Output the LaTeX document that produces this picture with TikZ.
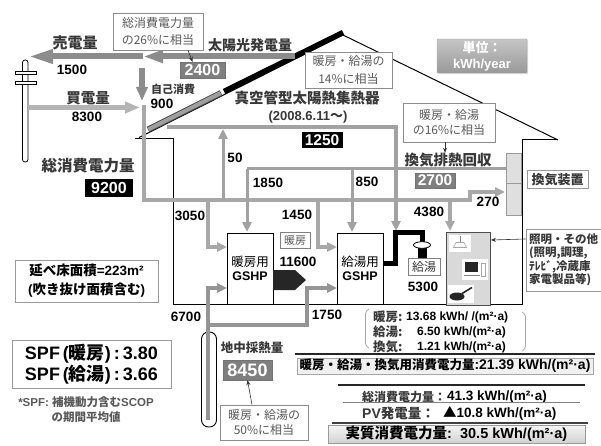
\documentclass[tikz,border=0pt]{standalone}
\usepackage{fontspec}
\setmainfont{Liberation Sans}
\newfontfamily\jp{Noto Sans CJK JP}
\usetikzlibrary{arrows.meta,shadows}
\newcommand\fsz[2]{\fontsize{#1}{#2}\selectfont}
\newcommand\jtxt[1]{{\jp #1}}

\definecolor{sellgray}{HTML}{8C8C8C}
\definecolor{buygray}{HTML}{B4B4B4}
\definecolor{flowgray}{HTML}{A8A8A8}
\definecolor{heatgray}{HTML}{A2A2A2}
\definecolor{groundgray}{HTML}{959595}
\definecolor{labgray}{HTML}{383838}
\definecolor{notegray}{HTML}{5A5A5A}
\definecolor{boxgray}{HTML}{7F7F7F}

\begin{document}
\begin{tikzpicture}[x=1pt,y=-1pt,
  sell/.style={line width=6pt,draw=sellgray},
  buy/.style={line width=5pt,draw=buygray},
  elec/.style={line width=4pt,draw=flowgray},
  heat/.style={line width=3pt,draw=heatgray},
  ground/.style={line width=4pt,draw=groundgray},
  tip/.style={-{Triangle[length=10pt,width=9pt]}},
  num/.style={font=\fsz{13.5}{14}\bfseries,inner sep=0pt},
  jlab/.style={font=\jp\bfseries\fsz{14.5}{15},text=labgray,inner sep=0pt},
  note/.style={draw=gray!90,fill=white,line width=0.7pt,align=center,text=notegray,inner sep=0pt,font=\jp\fsz{12}{17}},
  valbox/.style={fill=boxgray,draw=black!55,text=white,font=\fsz{16}{16}\bfseries,inner sep=0pt},
  darkbox/.style={fill=black,text=white,font=\fsz{16}{16}\bfseries,inner sep=0pt},
  wall/.style={line width=1pt,draw=black},
  pointer/.style={-{Stealth[length=5pt,width=4pt]},line width=0.6pt,draw=black!80},
  bline/.style={anchor=west,inner sep=0pt},
]
\useasboundingbox (0,0) rectangle (601,446);

% ---------- house outline ----------
\draw[wall] (135,139) -- (173,139) -- (173,304.5) -- (522,304.5) -- (522,140) -- (558,140);
\draw[wall] (139,137.5) -- (343,35) -- (558,140);
% PV panel and vacuum-tube collector on the roof
\draw[line width=6pt,black!70] (148,129.5) -- (221,93);
\draw[line width=4pt,gray!75] (148.5,129.3) -- (220.5,93.2);
\draw[line width=5.5pt,black] (224,91.5) -- (343,32.5);

% ---------- utility pole ----------
\draw[line width=0.8pt,fill=white,rounded corners=2.5pt] (22.5,60) rectangle (28,162);
\draw[line width=0.8pt,fill=white] (15,71) rectangle (36,74);
\draw[line width=0.8pt,fill=white] (15,81) rectangle (36,84);

% ---------- PV output: sold and self-consumed ----------
\coordinate (pvEnd) at (295,56.5);
\coordinate (pvSplit) at (143,56.5);
\coordinate (poleTop) at (28,56.5);
\draw[sell,-{Triangle[length=20pt,width=12pt]}] (pvEnd) -- (pvSplit);
\draw[sell,-{Triangle[length=25pt,width=13pt]}] (pvSplit) -- (poleTop);
\coordinate (selfTop) at (142,68);
\coordinate (selfEnd) at (142,101);
\draw[sell,-{Triangle[length=14pt,width=11pt]}] (selfTop) -- (selfEnd);

% ---------- purchased electricity ----------
\coordinate (buyStart) at (28,107.5);
\coordinate (buyEnd) at (140,107.5);
\draw[buy,-{Triangle[length=15pt,width=11pt]}] (buyStart) -- (buyEnd);

% ---------- electricity distribution ----------
\coordinate (busTop) at (143.5,105);
\coordinate (busCorner) at (143.5,200);
\coordinate (busStep) at (470,200);
\coordinate (ventIn) at (505,192);
\draw[elec,tip,line join=miter] (busTop) -- (busCorner) -- (busStep) -- (470,192) -- (ventIn);
\draw[elec,tip] (208,200) -- (208,247) -- (227,247);
\draw[elec,tip] (318,200) -- (318,247) -- (337,247);
\draw[heat,tip] (223,200) -- (223,129);
\draw[elec,tip] (450,200) -- (450,231);

% ---------- heat recovered from ventilation ----------
\coordinate (hxStart) at (506,169);
\draw[heat] (hxStart) -- (247,169);
\draw[heat,tip] (247,169) -- (247,232);
\draw[heat,tip] (352,169) -- (352,232);

% ---------- solar thermal ----------
\draw[line width=4pt,draw=heatgray,tip] (167,127) -- (396,127) -- (396,231);

% ---------- ground loop ----------
\draw[line width=0.9pt,rounded corners=7pt] (201.5,332) rectangle (216.5,427);
\draw[ground,tip] (208,420) -- (208,288) -- (227,288);
\draw[ground,tip] (208,325) -- (307,325) -- (307,288) -- (337,288);

% ---------- heat pumps ----------
\node[draw,line width=1pt,fill=white,minimum width=46pt,minimum height=71pt,inner sep=0pt,align=center,font=\fsz{12.5}{13.5}] (hpH) at (250,268.5) {\jtxt{暖房用}\\\textbf{GSHP}};
\node[draw,line width=1pt,fill=white,minimum width=46pt,minimum height=71pt,inner sep=0pt,align=center,font=\fsz{12.5}{13.5}] (hpW) at (360,268.5) {\jtxt{給湯用}\\\textbf{GSHP}};
\fill[black!85] (273,270) -- (295,270) -- (306,280) -- (295,290) -- (273,290) -- cycle;
\node[draw=gray,line width=0.7pt,fill=white,font=\jp\fsz{11}{11},text=notegray,minimum width=30pt,minimum height=16pt,inner sep=0pt] (heatLbl) at (295,240) {暖房};
\node[num] (heatV) at (298,262) {11600};

% ---------- hot water pipe and tank ----------
\draw[line width=5pt,line join=miter] (383,263) -- (395,263) -- (395,232) -- (422,232) -- (422,243);
\fill (417.5,247) rectangle (426.5,258);
\draw[line width=0.8pt,fill=white] (422,245) ellipse (8.5pt and 3.3pt);
\node[draw=gray,line width=0.7pt,fill=white,font=\jp\fsz{12}{12},text=labgray,minimum width=32pt,minimum height=17pt,inner sep=0pt] (tankLbl) at (424,266.5) {給湯};
\node[num] (tankV) at (423,287) {5300};

% ---------- ventilation unit ----------
\node[draw=gray!80,fill=gray!25,minimum width=15pt,minimum height=30pt,inner sep=0pt] (ventA) at (513.5,168) {};
\node[draw=gray!80,fill=gray!25,minimum width=15pt,minimum height=32pt,inner sep=0pt] (ventB) at (513.5,199) {};
\node[draw=gray!80,line width=0.7pt,fill=white,font=\jp\bfseries\fsz{13}{13},text=labgray,minimum width=61pt,minimum height=18pt,inner sep=0pt] (ventL) at (557.5,179.5) {換気装置};

% ---------- lighting and appliances ----------
\node[draw=black!70,line width=0.8pt,fill=gray!30,minimum width=44pt,minimum height=73pt,inner sep=0pt] (app) at (468.5,268.5) {};
\fill[white] (449,235) rectangle (471,252);
\draw[gray,line width=0.6pt] (460,236) -- (460,242.5);
\draw[gray!70,line width=0.6pt,fill=white] (453.5,247.5) -- (456,242.5) -- (464,242.5) -- (466.5,247.5) -- cycle;
\fill[white] (462,259) rectangle (488,280);
\fill[black!85] (465,262) rectangle (478,272);
\draw[gray,line width=0.6pt] (464,275) -- (480,275);
\draw[gray!70,line width=0.5pt] (481,263) rectangle (485,276);
\fill[white] (448,285) rectangle (474,303);
\fill[black!85] (457,296.5) ellipse (7.5pt and 4pt);
\draw[black!85,line width=1.6pt] (462,293.5) -- (472,287.5);
\node[draw=gray!80,line width=0.7pt,fill=white,align=left,font=\jp\bfseries\fsz{11.5}{13.5},text=labgray,minimum width=75pt,minimum height=62pt,inner sep=2pt] (appL) at (563.5,260) {照明・その他\\(照明,調理,\\ﾃﾚﾋﾞ,冷蔵庫\\家電製品等)};
\draw[pointer] ([yshift=21pt]appL.west) -- ([yshift=28.5pt]app.east);

% ---------- flow labels ----------
\node[jlab,font=\jp\bfseries\fsz{15}{15}] (sellL) at (75,43) {売電量};
\node[num] (sellV) at (72,70) {1500};
\node[jlab] (buyL) at (88,98) {買電量};
\node[num] (buyV) at (87,117) {8300};
\node[jlab,font=\jp\bfseries\fsz{14}{14}] (pvL) at (250,45) {太陽光発電量};
\node[valbox,minimum width=45pt,minimum height=16pt] (pvV) at (202.5,70) {2400};
\node[note,minimum width=90pt,minimum height=37pt] (noteA) at (158,31.5) {総消費電力量\\の26\%に相当};
\draw[pointer] ([xshift=30pt]noteA.south) -- ([xshift=-10pt]pvV.north);
\node[jlab,font=\jp\bfseries\fsz{11}{11}] (selfL) at (173,89) {自己消費};
\node[num] (selfV) at (162,104) {900};
\node[jlab,font=\jp\bfseries\fsz{15.5}{16}] (totL) at (88,166) {総消費電力量};
\node[darkbox,minimum width=48pt,minimum height=18pt] (totV) at (109,188) {9200};

\node[jlab] (stL) at (307,98) {真空管型太陽熱集熱器};
\node[font=\bfseries\fsz{13}{13},text=labgray,inner sep=0pt] (stDate) at (308,117) {(2008.6.11\jtxt{～})};
\node[darkbox,font=\fsz{15.5}{15.5}\bfseries,minimum width=41pt,minimum height=16pt] (stV) at (322,140) {1250};
\node[note,minimum width=87pt,minimum height=36pt,font=\jp\fsz{12}{18}] (noteB) at (348.5,70) {暖房・給湯の\\14\%に相当};

\node[draw=gray!70,top color=gray!45,bottom color=gray!80,text=white,font=\bfseries\fsz{13}{16},align=center,minimum width=90pt,minimum height=34pt,inner sep=0pt,rounded corners=1pt,drop shadow={shadow xshift=1.2pt,shadow yshift=-1.2pt,opacity=0.3}] (unit) at (482,56) {\jtxt{単位：}\\kWh/year};

\node[note,minimum width=92pt,minimum height=39pt,font=\jp\fsz{12}{15}] (noteC) at (449,122.5) {暖房・給湯\\の16\%に相当};
\node[jlab] (hxL) at (448,160) {換気排熱回収};
\draw[pointer] ([xshift=-4pt]noteC.south) -- ([xshift=-3pt]hxL.north);
\node[valbox,font=\fsz{15.5}{15.5}\bfseries,minimum width=40pt,minimum height=15pt] (hxV) at (435,180.5) {2700};

\node[num] (v50) at (235,158) {50};
\node[num] (v1850) at (268,183) {1850};
\node[num] (v850) at (367,182) {850};
\node[num] (v3050) at (190,216) {3050};
\node[num] (v1450) at (297,215) {1450};
\node[num] (v4380) at (429,212) {4380};
\node[num] (v270) at (488,202) {270};
\node[num] (v6700) at (186,317) {6700};
\node[num] (v1750) at (327,315) {1750};

\node[jlab,font=\jp\bfseries\fsz{12.5}{12.5}] (gL) at (252,348) {地中採熱量};
\node[valbox,font=\fsz{18}{18}\bfseries,minimum width=49pt,minimum height=20pt] (gV) at (247.5,370) {8450};
\node[note,minimum width=88pt,minimum height=35pt,font=\jp\fsz{12}{15}] (noteD) at (264,422.5) {暖房・給湯の\\50\%に相当};
\draw[pointer] ([xshift=-12pt]noteD.north) -- (gV.south);

% ---------- floor area and SPF ----------
\node[draw=gray!80,line width=0.8pt,minimum width=143pt,minimum height=42pt,inner sep=0pt,align=center,font=\bfseries\fsz{13.5}{19}] (area) at (86.5,281) {\jtxt{延べ床面積}=223m²\\(\jtxt{吹き抜け面積含む})};
\node[draw=gray!80,line width=1pt,minimum width=159pt,minimum height=48pt,inner sep=0pt,align=center,font=\bfseries\fsz{18}{21.5}] (spf) at (91.5,364) {SPF\,(\jtxt{暖房})\,:\,3.80\\SPF\,(\jtxt{給湯})\,:\,3.66};
\node[font=\bfseries\fsz{11.5}{15},text=notegray,align=center,inner sep=0pt] (spfN) at (86,409.5) {*SPF: \jtxt{補機動力含む}SCOP\\\jtxt{の期間平均値}};

% ---------- per-area figures ----------
\draw[gray!70,line width=0.8pt,rounded corners=3pt] (369,309) -- (365.5,311) -- (365.5,346) -- (369,348);
\draw[gray!70,line width=0.8pt,rounded corners=3pt] (522,312) -- (525.5,314) -- (525.5,349) -- (522,351);
\node[bline,font=\jp\bfseries\fsz{12.5}{12.5},text=labgray] (bHl) at (373,317) {暖房:};
\node[bline,font=\bfseries\fsz{12}{12}] (bHv) at (406,317) {13.68 kWh/ /(m²·a)};
\node[bline,font=\jp\bfseries\fsz{12.5}{12.5},text=labgray] (bWl) at (373,332) {給湯:};
\node[bline,font=\bfseries\fsz{12}{12}] (bWv) at (417,332) {6.50 kWh/(m²·a)};
\node[bline,font=\jp\bfseries\fsz{12.5}{12.5},text=labgray] (bVl) at (373,347) {換気:};
\node[bline,font=\bfseries\fsz{12}{12}] (bVv) at (417,347) {1.21 kWh/(m²·a)};

\draw[black!85,line width=2pt] (295,354) -- (595,354);
\node[draw=gray!70,line width=0.8pt,fill=gray!12,minimum width=296pt,minimum height=16pt,inner sep=0pt,font=\bfseries\fsz{14}{14},drop shadow={shadow xshift=1pt,shadow yshift=-1pt,opacity=0.25}] (sumBox) at (445,366) {{\jp\fsz{12.5}{12.5}暖房・給湯・換気用消費電力量}:21.39 kWh/(m²·a)};

\draw[black!85,line width=2pt] (338,385) -- (585,385);
\node[bline,font=\jp\bfseries\fsz{12}{12},text=labgray] (totAl) at (362,397) {総消費電力量：};
\node[bline,font=\bfseries\fsz{13.5}{13.5}] (totAv) at (447,397) {41.3 kWh/(m²·a)};
\draw[gray,line width=0.8pt] (343,402.5) -- (580,402.5);
\node[bline,font=\bfseries\fsz{14}{14},text=labgray] (pvAl) at (362,413) {PV{\jp\fsz{13.5}{13.5}発電量：}};
\node[bline,font=\bfseries\fsz{13.5}{13.5}] (pvAv) at (443,413) {\jtxt{▲}10.8 kWh/(m²·a)};
\draw[black!75,line width=1.5pt] (332,423) -- (588,423);
\node[draw=gray!80,line width=0.8pt,top color=gray!8,bottom color=gray!35,minimum width=257pt,minimum height=18pt,inner sep=0pt,font=\bfseries\fsz{14.5}{14.5}] (netBox) at (456.5,434) {\jtxt{実質消費電力量}:\ \ 30.5 kWh/(m²·a)};

\end{tikzpicture}
\end{document}
